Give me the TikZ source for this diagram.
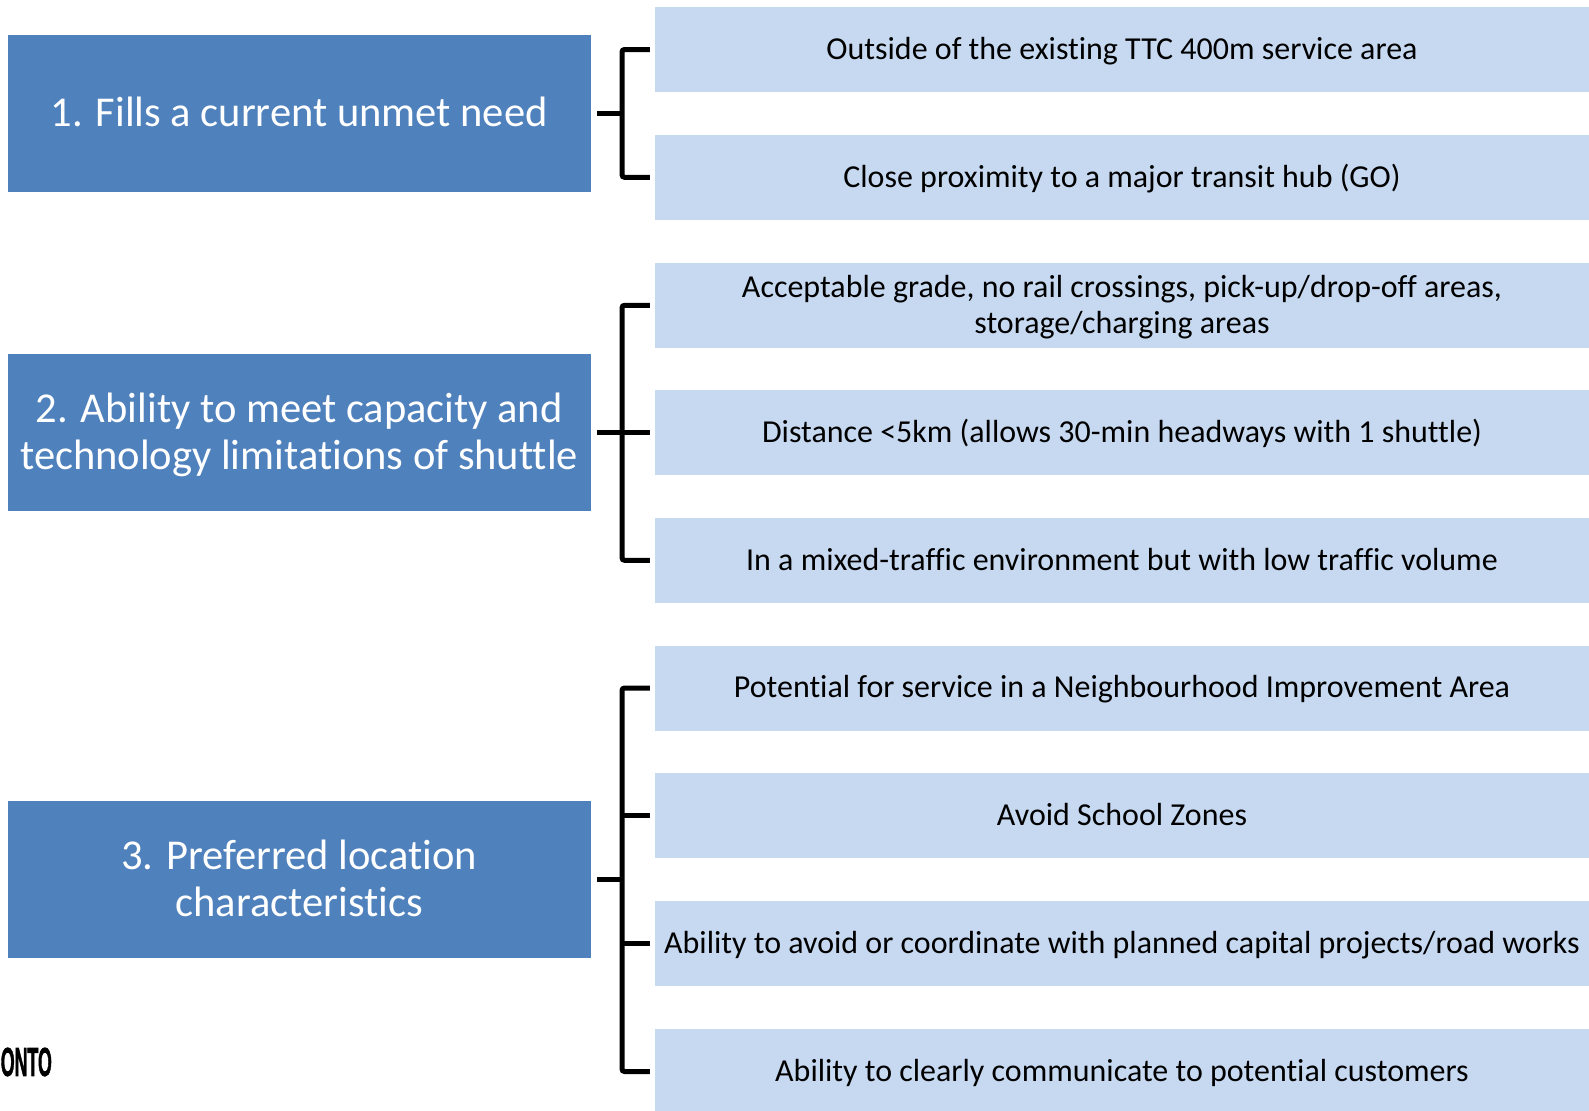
\documentclass[tikz,border=0pt]{standalone}
\usepackage{fontspec}
\setmainfont[Ligatures=NoCommon]{Carlito}
\newfontfamily\logofont[FakeBold=2]{Liberation Sans Bold}
\definecolor{headblue}{HTML}{4F81BD}
\definecolor{itemblue}{HTML}{C6D9F1}
\newcommand{\headstrut}{\rule{0pt}{23.4pt}\strut}
\newcommand{\itemstrut}{\rule{0pt}{17.4pt}\strut}
\tikzset{
  headbox/.style={fill=headblue, text=white, minimum width=11.67cm, minimum height=3.13cm, inner sep=0pt, align=center, font=\fontsize{24.2}{26.8}\selectfont},
  itembox/.style={fill=itemblue, text=black, minimum width=18.68cm, minimum height=1.7cm, inner sep=0pt, align=center, font=\fontsize{18.2}{20.6}\selectfont},
  bracket/.style={line width=0.1cm, rounded corners=0.05cm, shorten <=0.1cm, shorten >=0.1cm},
  stub/.style={line width=0.1cm, shorten <=0.12cm}
}
\begin{document}
\begin{tikzpicture}[x=0.02cm, y=-0.02cm]
    \useasboundingbox (0,0) rectangle (1589,1110);

    % Criteria on the left
    \node[headbox] (need) at (299.25,113.3) {\headstrut 1. Fills a current unmet need};
    \node[headbox] (capacity) at (299.25,432.5) {\headstrut 2. Ability to meet capacity and\\\strut technology limitations of shuttle};
    \node[headbox] (location) at (299.25,879.5) {\headstrut 3. Preferred location\\\strut characteristics};

    % Items on the right
    \foreach \name/\y/\txt in {
      outside/49.5/{Outside of the existing TTC 400m service area},
      hub/177.3/{Close proximity to a major transit hub (GO)},
      grade/305.3/{Acceptable grade, no rail crossings, pick-up/drop-off areas,\\\strut storage/charging areas},
      distance/432.5/{Distance <5km (allows 30-min headways with 1 shuttle)},
      mixed/560.3/{In a mixed-traffic environment but with low traffic volume},
      improve/688/{Potential for service in a Neighbourhood Improvement Area},
      school/815.5/{Avoid School Zones},
      works/943.5/{Ability to avoid or coordinate with planned capital projects/road works},
      customers/1071.5/{Ability to clearly communicate to potential customers}} {
      \node[itembox] (\name) at (1122,\y) {\itemstrut\txt};
    }

    % Logo fragment at the left edge
    \node[anchor=east, inner sep=0pt, xscale=0.44, font=\logofont\fontsize{23}{23}\selectfont] (logo) at (52,1062) {ONTO};

    % Brackets
    \coordinate (stem) at (622,0);
    \draw[bracket] (outside.west) -- (outside.west -| stem) -- (hub.west -| stem) -- (hub.west);
    \draw[stub] (need.east) -- (need.east -| stem);

    \draw[bracket] (grade.west) -- (grade.west -| stem) -- (mixed.west -| stem) -- (mixed.west);
    \draw[stub] (capacity.east) -- (capacity.east -| stem);
    \draw[stub, shorten <=0.1cm] (distance.west) -- (distance.west -| stem);

    \draw[bracket] (improve.west) -- (improve.west -| stem) -- (customers.west -| stem) -- (customers.west);
    \draw[stub] (location.east) -- (location.east -| stem);
    \draw[stub, shorten <=0.1cm] (school.west) -- (school.west -| stem);
    \draw[stub, shorten <=0.1cm] (works.west) -- (works.west -| stem);
\end{tikzpicture}
\end{document}
